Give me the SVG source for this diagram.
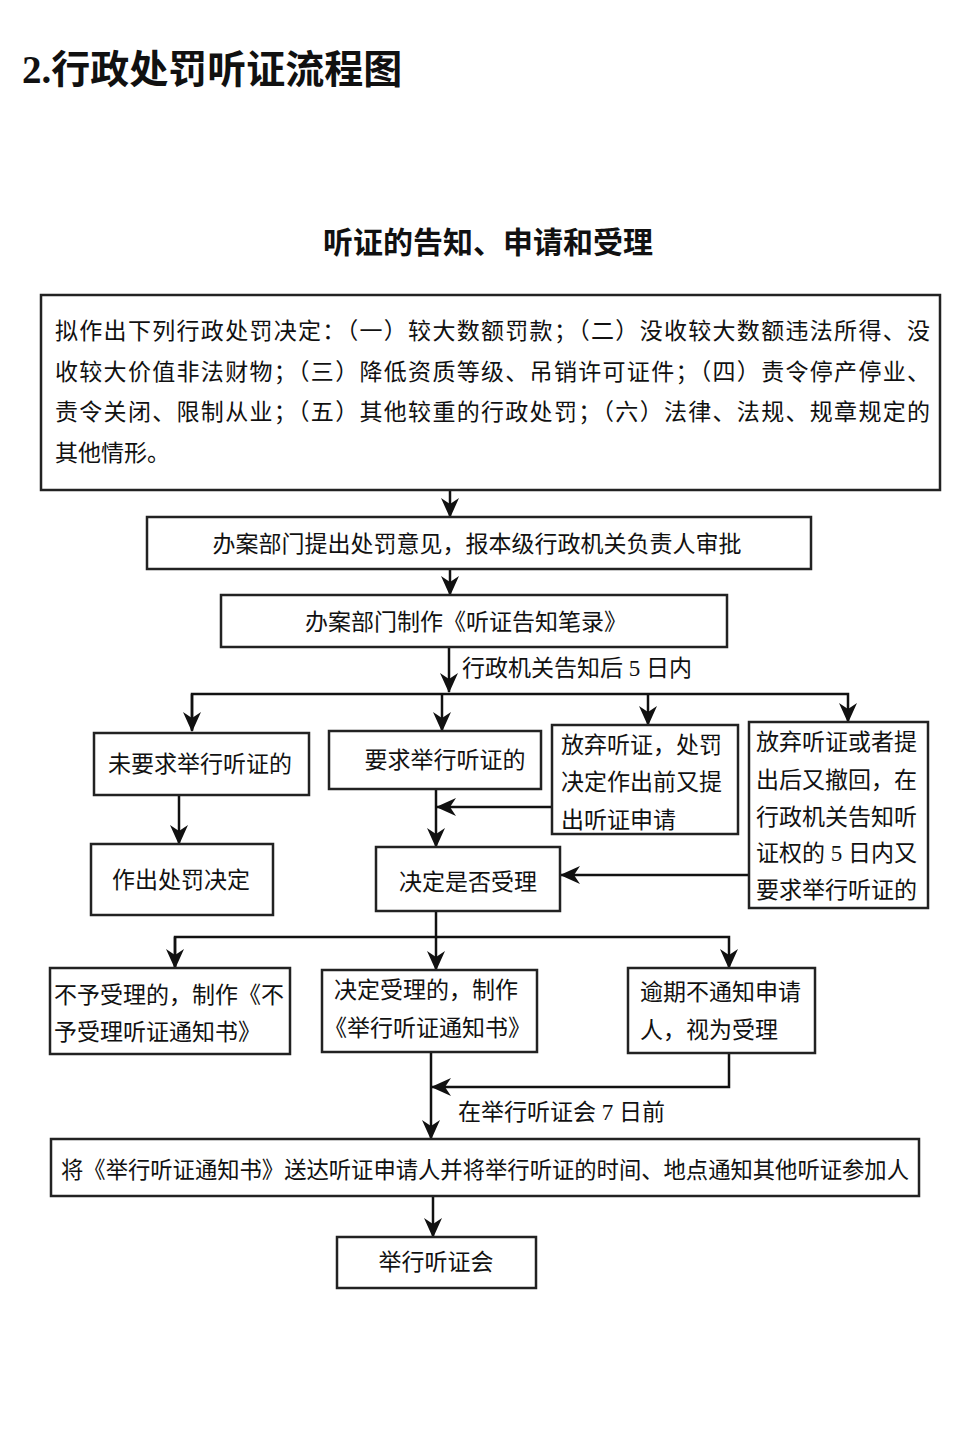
<svg xmlns="http://www.w3.org/2000/svg" width="974" height="1429" viewBox="0 0 974 1429">
<style>
text{font-family:"Liberation Serif","Noto Sans CJK SC",serif;fill:#111;font-size:23px}
.t{font-family:"Liberation Serif","Noto Sans CJK SC",serif;font-weight:bold;font-size:39px}
.st{font-family:"Noto Sans CJK SC",sans-serif;font-weight:bold;font-size:30px}
.c{text-anchor:middle}
rect{fill:#fff;stroke:#222;stroke-width:2.5}
#connectors path{fill:none;stroke:#111;stroke-width:2.5}
</style>
<defs>
<marker id="arr" viewBox="0 0 20 20" refX="19" refY="10" markerWidth="20" markerHeight="20" orient="auto" markerUnits="userSpaceOnUse">
<path d="M0,1 L20,10 L0,19 L6,10 z" fill="#111"/>
</marker>
</defs>
<rect x="0" y="0" width="974" height="1429" style="fill:#fff;stroke:none"/>
<text class="t" x="22" y="83">2.行政处罚听证流程图</text>
<text class="st c" x="488" y="253">听证的告知、申请和受理</text>

<g id="connectors">
<path d="M450,490 V517" marker-end="url(#arr)"/>
<path d="M450,569 V595" marker-end="url(#arr)"/>
<path d="M449,647 V692" marker-end="url(#arr)"/>
<path d="M192,730 V694 H848 V722" marker-end="url(#arr)"/>
<path d="M192,694 V731" marker-end="url(#arr)"/>
<path d="M442,694 V731" marker-end="url(#arr)"/>
<path d="M648,694 V725" marker-end="url(#arr)"/>
<path d="M179,795 V844" marker-end="url(#arr)"/>
<path d="M436,789 V847" marker-end="url(#arr)"/>
<path d="M552,807 H437" marker-end="url(#arr)"/>
<path d="M749,875 H561" marker-end="url(#arr)"/>
<path d="M436,911 V937"/>
<path d="M175,968 V937 H729 V968" marker-end="url(#arr)"/>
<path d="M175,937 V968" marker-end="url(#arr)"/>
<path d="M436,937 V970" marker-end="url(#arr)"/>
<path d="M431,1052 V1139" marker-end="url(#arr)"/>
<path d="M729,1053 V1087 H432" marker-end="url(#arr)"/>
<path d="M433,1196 V1237" marker-end="url(#arr)"/>
<text x="462" y="676">行政机关告知后 5 日内</text>
<text x="458" y="1120">在举行听证会 7 日前</text>
</g>

<g id="n1">
<rect x="41" y="295" width="899" height="195"/>
<text x="55" y="339" textLength="875" lengthAdjust="spacing">拟作出下列行政处罚决定：（一）较大数额罚款；（二）没收较大数额违法所得、没</text>
<text x="55" y="380" textLength="875" lengthAdjust="spacing">收较大价值非法财物；（三）降低资质等级、吊销许可证件；（四）责令停产停业、</text>
<text x="55" y="420" textLength="875" lengthAdjust="spacing">责令关闭、限制从业；（五）其他较重的行政处罚；（六）法律、法规、规章规定的</text>
<text x="55" y="461">其他情形。</text>
</g>
<g id="n2">
<rect x="147" y="517" width="664" height="52"/>
<text class="c" x="477" y="552">办案部门提出处罚意见，报本级行政机关负责人审批</text>
</g>
<g id="n3">
<rect x="221" y="595" width="506" height="52"/>
<text class="c" x="466" y="630">办案部门制作《听证告知笔录》</text>
</g>
<g id="n4">
<rect x="94" y="733" width="215" height="62"/>
<text class="c" x="200" y="772">未要求举行听证的</text>
</g>
<g id="n5">
<rect x="329" y="731" width="212" height="58"/>
<text class="c" x="445" y="768">要求举行听证的</text>
</g>
<g id="n6">
<rect x="552" y="725" width="186" height="109"/>
<text x="561" y="753">放弃听证，处罚</text>
<text x="561" y="790">决定作出前又提</text>
<text x="561" y="828">出听证申请</text>
</g>
<g id="n7">
<rect x="749" y="722" width="179" height="186"/>
<text x="756" y="750">放弃听证或者提</text>
<text x="756" y="788">出后又撤回，在</text>
<text x="756" y="825">行政机关告知听</text>
<text x="756" y="861">证权的 5 日内又</text>
<text x="756" y="898">要求举行听证的</text>
</g>
<g id="n8">
<rect x="91" y="844" width="182" height="71"/>
<text class="c" x="181" y="888">作出处罚决定</text>
</g>
<g id="n9">
<rect x="376" y="847" width="184" height="64"/>
<text class="c" x="468" y="890">决定是否受理</text>
</g>
<g id="n10">
<rect x="50" y="968" width="240" height="86"/>
<text x="54" y="1003">不予受理的，制作《不</text>
<text x="54" y="1040">予受理听证通知书》</text>
</g>
<g id="n11">
<rect x="322" y="970" width="215" height="82"/>
<text x="334" y="998">决定受理的，制作</text>
<text x="324" y="1036">《举行听证通知书》</text>
</g>
<g id="n12">
<rect x="628" y="968" width="187" height="85"/>
<text x="640" y="1000">逾期不通知申请</text>
<text x="640" y="1038">人，视为受理</text>
</g>
<g id="n13">
<rect x="51" y="1139" width="868" height="57"/>
<text class="c" x="485" y="1178" textLength="848" lengthAdjust="spacingAndGlyphs">将《举行听证通知书》送达听证申请人并将举行听证的时间、地点通知其他听证参加人</text>
</g>
<g id="n14">
<rect x="337" y="1237" width="199" height="51"/>
<text class="c" x="436" y="1270">举行听证会</text>
</g>
</svg>
